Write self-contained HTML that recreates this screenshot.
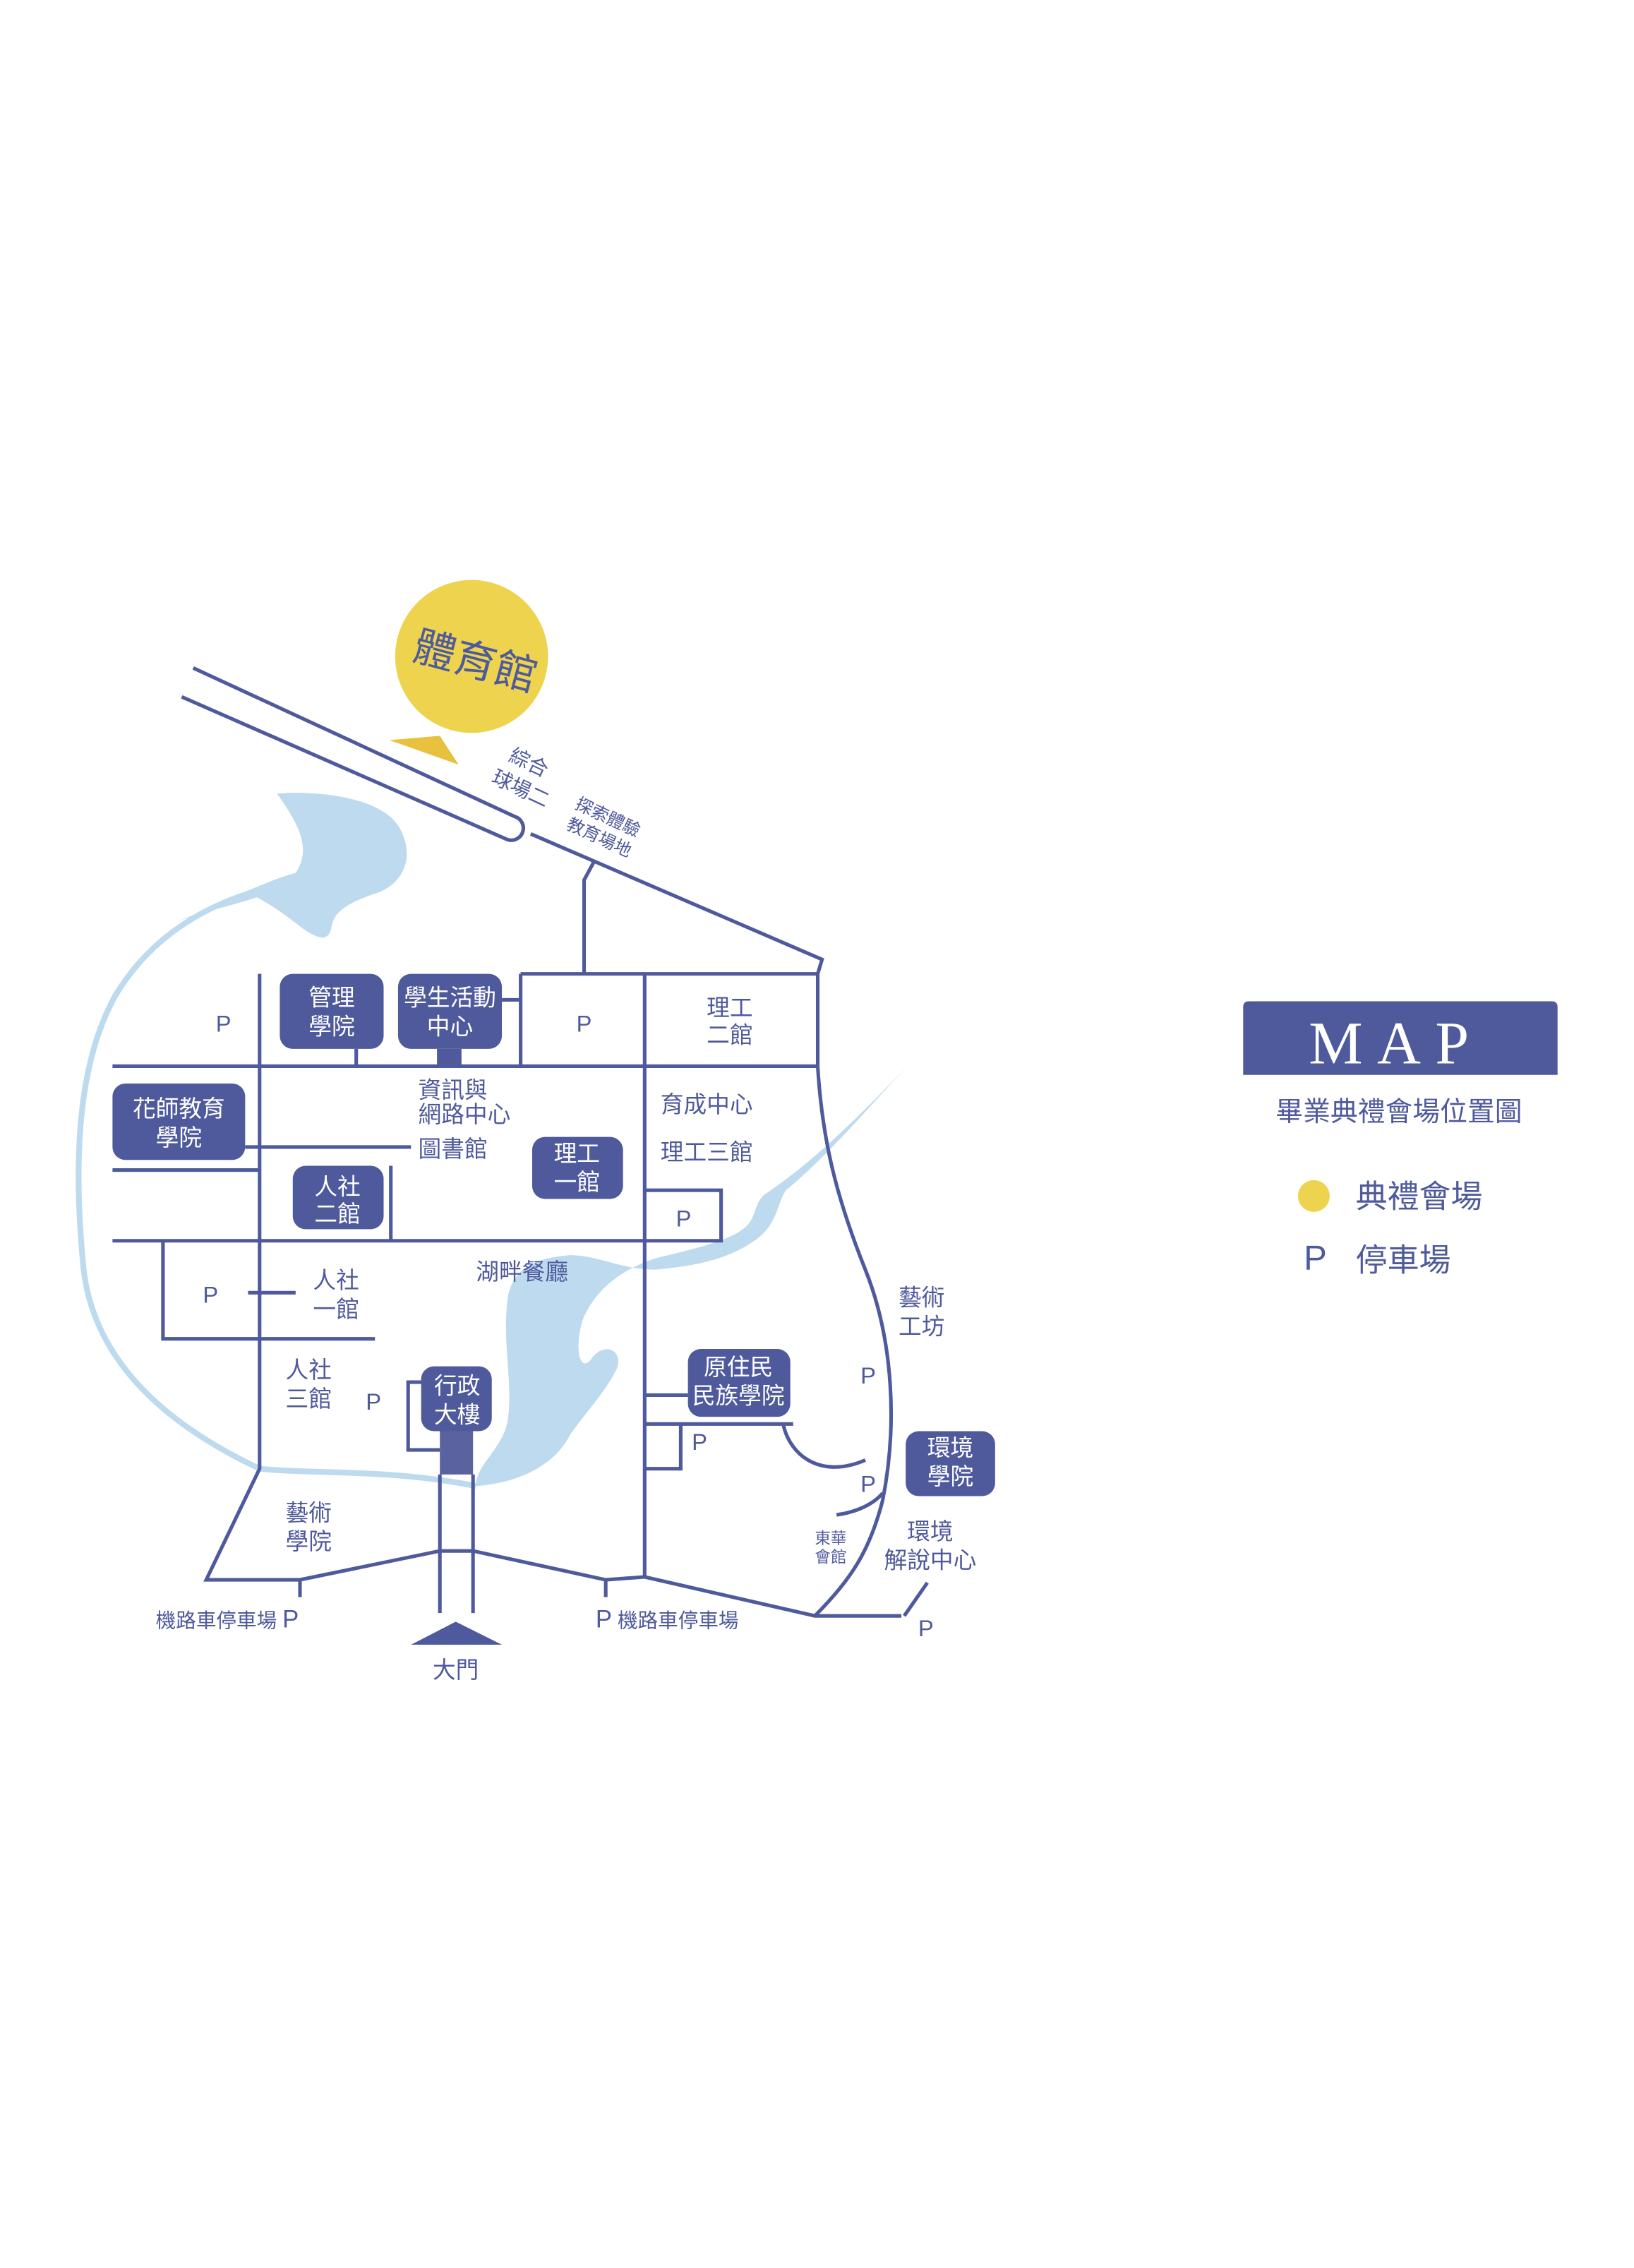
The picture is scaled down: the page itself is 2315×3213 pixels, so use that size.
<!DOCTYPE html>
<html><head><meta charset="utf-8">
<style>
html,body{margin:0;padding:0;background:#fff;}
svg{display:block;}
text{font-family:"Liberation Sans","Noto Sans CJK TC",sans-serif;fill:#4f5a9c;}
.w{fill:#fff;}
</style></head>
<body>
<svg width="2315" height="3213" viewBox="0 0 1133 1572" preserveAspectRatio="none" xmlns="http://www.w3.org/2000/svg">
<rect width="1133" height="1572" fill="#fff"/>
<!-- lake shapes -->
<g fill="#bedaee">
<path d="M192,550 C220,548 262,552 276,572 C290,595 278,615 258,620 C245,625 232,630 230,642 C228,654 220,650 212,645 C200,636 190,628 178,622 C160,628 140,632 120,640 C150,628 180,612 205,605 C215,590 210,575 192,550 Z"/>
<path d="M330,1030 C360,1028 385,1015 395,995 C405,980 420,965 428,948 C432,935 418,930 410,942 C402,952 398,935 404,915 C412,895 430,880 455,872 C480,866 505,860 515,852 C525,845 522,835 530,828 C560,808 590,780 630,738 C600,770 575,800 545,825 C538,835 540,850 520,862 C500,875 475,878 455,880 C430,880 415,870 395,870 C370,872 355,880 352,900 C348,930 356,960 352,985 C348,1005 330,1015 330,1030 Z"/>
</g>
<path d="M212,610 C160,618 110,640 80,690 C55,735 50,800 58,880 C65,940 110,985 180,1018 C220,1022 270,1018 330,1030" fill="none" stroke="#bedaee" stroke-width="4"/>
<!-- yellow -->
<circle cx="327" cy="455" r="53" fill="#edd34e"/>
<polygon points="270,513 305,510 318,530" fill="#e8c23e"/>
<text x="0" y="0" font-size="29" transform="translate(327,468) rotate(15)" text-anchor="middle">體育館</text>
<g fill="none" stroke="#4f5a9c" stroke-width="2.5">
<!-- diagonal road capsule -->
<path d="M134,463 L357,566 A8,8 0 0 1 352,582 L126,483"/>
<path d="M368,578 L570,665 L567,675"/>
<path d="M412,597 L405,610 L405,675"/>
<!-- grid -->
<path d="M361,675 H567 V739"/>
<path d="M361,675 V739 M447,675 V1093"/>
<path d="M78,739 H567"/>
<path d="M180,675 V1018 L143,1095 H208 L305,1075 H328 L420,1095 L447,1093 L565,1120 H625"/>
<path d="M78,811 H180"/>
<path d="M78,860 H447"/>
<path d="M447,825 H500 V860 H447"/>
<path d="M170,795 H285"/>
<path d="M247,727 V739 M348,693 H361 M271,808 V860"/>
<path d="M113,860 V928 H260 M172,896 H205"/>
<path d="M293,958 H283 V1005 H305"/>
<path d="M305,1022 V1118 M328,1022 V1118"/>
<path d="M208,1095 V1107 M420,1095 V1107"/>
<path d="M447,967 H477 M447,987 H550 M472,987 V1018 H447"/>
<path d="M543,987 C548,1010 570,1025 600,1012"/>
<path d="M580,1050 C595,1048 606,1042 612,1035"/>
<path d="M567,739 C570,790 580,830 600,880 C620,930 622,990 612,1040 C603,1075 590,1095 565,1120"/>
<path d="M643,1097 L627,1120"/>
</g>
<rect x="303" y="727" width="17" height="12" fill="#4f5a9c"/>
<rect x="305" y="990" width="23" height="32" fill="#5a62a0"/>
<polygon points="285,1140 348,1140 316,1124" fill="#4f5a9c"/>
<!-- buildings -->
<g fill="#4f5a9c">
<rect x="194" y="675" width="72" height="52" rx="9"/>
<rect x="276" y="675" width="72" height="52" rx="9"/>
<rect x="78" y="751" width="92" height="53" rx="9"/>
<rect x="203" y="808" width="63" height="44" rx="9"/>
<rect x="369" y="788" width="63" height="43" rx="9"/>
<rect x="292" y="947" width="49" height="45" rx="9"/>
<rect x="477" y="935" width="71" height="47" rx="9"/>
<rect x="628" y="992" width="62" height="45" rx="9"/>
</g>
<g font-size="16" text-anchor="middle">
<text class="w" x="230" y="697">管理</text><text class="w" x="230" y="717">學院</text>
<text class="w" x="312" y="697">學生活動</text><text class="w" x="312" y="717">中心</text>
<text class="w" x="124" y="774">花師教育</text><text class="w" x="124" y="794">學院</text>
<text class="w" x="234" y="828">人社</text><text class="w" x="234" y="847">二館</text>
<text class="w" x="400" y="805">理工</text><text class="w" x="400" y="825">一館</text>
<text class="w" x="317" y="966">行政</text><text class="w" x="317" y="986">大樓</text>
<text class="w" x="512" y="953">原住民</text><text class="w" x="512" y="973">民族學院</text>
<text class="w" x="659" y="1009">環境</text><text class="w" x="659" y="1029">學院</text>
<text x="155" y="715">P</text><text x="405" y="715">P</text>
<text x="506" y="704">理工</text><text x="506" y="723">二館</text>
<text x="474" y="850">P</text><text x="146" y="903">P</text>
<text x="259" y="977">P</text>
<text x="602" y="959">P</text><text x="485" y="1005">P</text><text x="602" y="1034">P</text>
<text x="642" y="1134">P</text>
<text x="645" y="1067">環境</text><text x="645" y="1087">解說中心</text>
<text x="316" y="1163">大門</text>
</g>
<g font-size="16">
<text x="290" y="761">資訊與</text><text x="290" y="778">網路中心</text>
<text x="290" y="802">圖書館</text>
<text x="458" y="771">育成中心</text><text x="458" y="804">理工三館</text>
<text x="330" y="887">湖畔餐廳</text>
<text x="217" y="893">人社</text><text x="217" y="913">一館</text>
<text x="198" y="955">人社</text><text x="198" y="975">三館</text>
<text x="198" y="1054">藝術</text><text x="198" y="1074">學院</text>
<text x="623" y="905">藝術</text><text x="623" y="925">工坊</text>
</g>
<text x="108" y="1128" font-size="14">機路車停車場 <tspan font-size="17">P</tspan></text>
<text x="413" y="1128" font-size="14"><tspan font-size="17">P</tspan> 機路車停車場</text>
<text x="576" y="1070" font-size="11" text-anchor="middle">東華</text>
<text x="576" y="1083" font-size="11" text-anchor="middle">會館</text>
<text font-size="14" transform="translate(352,527) rotate(25)">綜合</text>
<text font-size="14" transform="translate(340,542) rotate(25)">球場二</text>
<text font-size="12" transform="translate(398,560) rotate(25)">探索體驗</text>
<text font-size="12" transform="translate(392,574) rotate(25)">教育場地</text>
<!-- MAP legend -->
<path d="M862,745 V698 Q862,694 866,694 H1076 Q1080,694 1080,698 V745 Z" fill="#4f5a9c"/>
<text class="w" x="968" y="737" font-size="42" text-anchor="middle" letter-spacing="10" style="font-family:'Liberation Serif',serif">MAP</text>
<text x="970" y="777" font-size="19" text-anchor="middle">畢業典禮會場位置圖</text>
<circle cx="911" cy="829" r="11" fill="#edd34e"/>
<text x="940" y="837" font-size="22">典禮會場</text>
<text x="912" y="880" font-size="24" text-anchor="middle">P</text>
<text x="940" y="881" font-size="22">停車場</text>
</svg>
</body></html>
